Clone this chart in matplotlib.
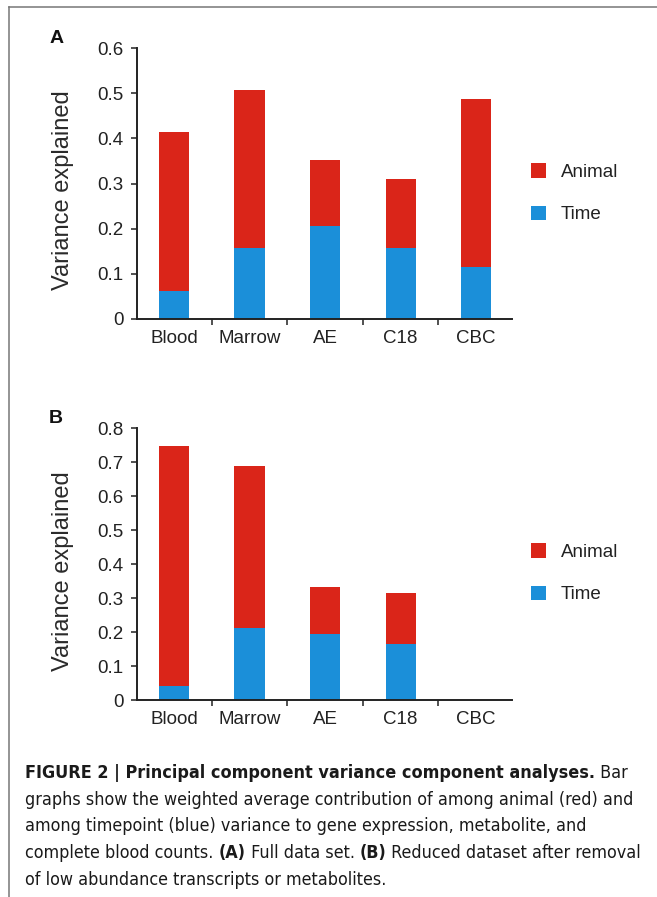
"""
Figure 2: variance components (animal vs time) per data set,
full data (A) and reduced data (B).
"""

import matplotlib
matplotlib.use('Agg')
import matplotlib.pyplot as plt
from matplotlib.patches import Patch
from matplotlib.lines import Line2D

plt.rcParams['font.family'] = ['Liberation Sans', 'DejaVu Sans']

# data
categories = ['Blood', 'Marrow', 'AE', 'C18', 'CBC']
time_full = [0.061, 0.158, 0.206, 0.158, 0.115]
total_full = [0.415, 0.508, 0.352, 0.310, 0.488]
time_reduced = [0.042, 0.213, 0.194, 0.164, 0.0]
total_reduced = [0.749, 0.690, 0.334, 0.316, 0.0]

yticks_full = [0, 0.1, 0.2, 0.3, 0.4, 0.5, 0.6]
yticks_reduced = [0, 0.1, 0.2, 0.3, 0.4, 0.5, 0.6, 0.7, 0.8]

RED = '#da2519'
BLUE = '#1b8fd9'
INK = '#222222'

fig = plt.figure(figsize=(6.57, 8.97), dpi=100)


def draw_panel(ax, time_vals, total_vals, yticks, letter, legend_y):
    x = range(len(categories))
    animal_vals = [t - b for t, b in zip(total_vals, time_vals)]
    ax.bar(x, time_vals, width=0.4, color=BLUE, linewidth=0)
    ax.bar(x, animal_vals, bottom=time_vals, width=0.4, color=RED, linewidth=0)

    ax.set_xlim(-0.49, 4.47)
    ax.set_ylim(0, yticks[-1])
    ax.set_yticks(yticks)
    ax.set_yticklabels(['0' if v == 0 else f'{v:g}' for v in yticks])
    ax.set_xticks(list(x))
    ax.set_xticklabels(categories)
    ax.set_xticks([i + 0.5 for i in range(len(categories) - 1)], minor=True)

    ax.tick_params(axis='x', which='major', length=0, pad=8, labelsize=13.5, labelcolor=INK)
    ax.tick_params(axis='x', which='minor', length=4, width=1.1, color=INK, direction='out')
    ax.tick_params(axis='y', length=4.5, width=1.1, color=INK, pad=5,
                   labelsize=13.5, labelcolor=INK, direction='out')

    for side in ['top', 'right']:
        ax.spines[side].set_visible(False)
    for side in ['left', 'bottom']:
        ax.spines[side].set_linewidth(1.4)
        ax.spines[side].set_color(INK)

    ax.set_ylabel('Variance explained', fontsize=17, color='#2a2a2a')
    ax.yaxis.set_label_coords(-0.168, 0.475)

    handles = [Patch(facecolor=RED, edgecolor='none', label='Animal'),
               Patch(facecolor=BLUE, edgecolor='none', label='Time')]
    fig.legend(handles=handles, loc='center left', bbox_to_anchor=(0.808, legend_y),
               frameon=False, fontsize=13.5, handlelength=0.8, handleheight=0.8,
               handletextpad=0.8, labelspacing=1.32, borderpad=0, borderaxespad=0,
               labelcolor=INK)

    fig.text(ax.get_position().x0 - 0.123, ax.get_position().y1 + 0.011, letter,
             fontsize=14, fontweight='bold', ha='center', va='center', color='#111111')


ax_a = fig.add_axes([0.2085, 0.6444, 0.5703, 0.3018])
ax_b = fig.add_axes([0.2085, 0.2196, 0.5703, 0.3029])
draw_panel(ax_a, time_full, total_full, yticks_full, 'A', 0.7844)
draw_panel(ax_b, time_reduced, total_reduced, yticks_reduced, 'B', 0.3608)

# gray frame on left and top
fig.add_artist(Line2D([8.5 / 657, 8.5 / 657], [0, 1 - 7.5 / 897], color='#777777', lw=1.1))
fig.add_artist(Line2D([8.5 / 657, 1], [1 - 7.5 / 897, 1 - 7.5 / 897], color='#777777', lw=1.1))

# caption, drawn segment by segment so bold runs can sit inside a line
cap_lines = [
    [('FIGURE 2 | Principal component variance component analyses.', True), (' Bar', False)],
    [('graphs show the weighted average contribution of among animal (red) and', False)],
    [('among timepoint (blue) variance to gene expression, metabolite, and', False)],
    [('complete blood counts. ', False), ('(A)', True), (' Full data set. ', False),
     ('(B)', True), (' Reduced dataset after removal', False)],
    [('of low abundance transcripts or metabolites.', False)],
]
cap_y = [773, 800, 826, 853, 880]

renderer = fig.canvas.get_renderer()


def draw_caption(size, draw=True):
    widest = 0
    made = []
    for segs, ypx in zip(cap_lines, cap_y):
        xpos = 25 / 657
        for s, bold in segs:
            t = fig.text(xpos, 1 - ypx / 897, s, fontsize=size, family='DejaVu Sans',
                         fontstretch='condensed', fontweight='bold' if bold else 'normal',
                         color='#1a1a1a', ha='left', va='center')
            made.append(t)
            xpos += t.get_window_extent(renderer=renderer).width / fig.bbox.width
        widest = max(widest, xpos * 657 - 25)
    if not draw:
        for t in made:
            t.remove()
    return widest


# fit the caption width to the reference (longest line spans about 620 px)
base = 12.5
w = draw_caption(base, draw=False)
draw_caption(base * 620 / w)

fig.savefig('out.png', dpi=100)
